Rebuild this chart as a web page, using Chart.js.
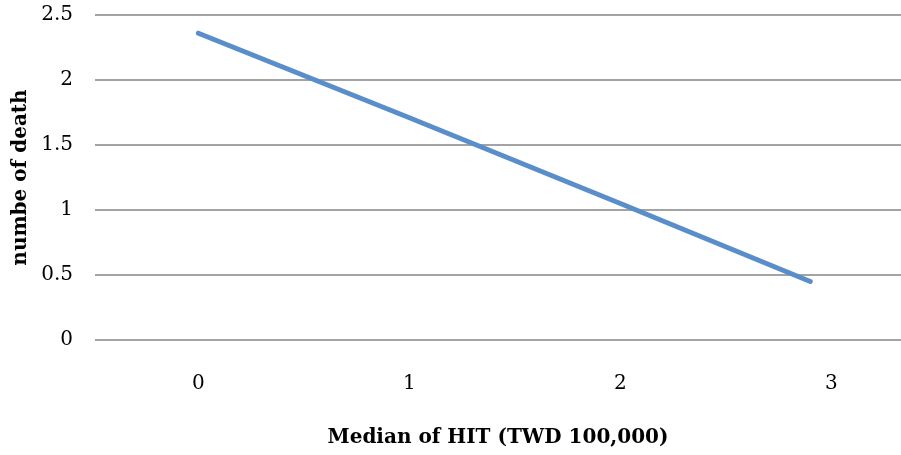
<!DOCTYPE html>
<html>
<head>
<meta charset="utf-8">
<script src="https://cdn.jsdelivr.net/npm/chart.js@4"></script>
<style>
  html, body { margin: 0; padding: 0; background: #ffffff; }
  #wrap { width: 901px; height: 455px; }
</style>
</head>
<body>
<div id="wrap"><canvas id="c" width="901" height="455"></canvas></div>
<script>
const medianHIT = [0, 1, 2, 2.9];
const deaths = [2.36, 1.71, 1.05, 0.45];
const xTickValues = [0, 1, 2, 3];
const yTickValues = [0, 0.5, 1, 1.5, 2, 2.5];
const xTitle = 'Median of HIT (TWD 100,000)';
const yTitle = 'numbe of death';

const points = medianHIT.map((x, i) => ({ x: x, y: deaths[i] }));
const serif = '"DejaVu Serif", "Liberation Serif", serif';

new Chart(document.getElementById('c'), {
  type: 'scatter',
  data: {
    datasets: [{
      data: points,
      showLine: true,
      borderColor: '#5A8ECB',
      backgroundColor: '#5A8ECB',
      borderWidth: 5,
      borderCapStyle: 'round',
      borderJoinStyle: 'round',
      pointRadius: 0,
      pointHoverRadius: 0,
      tension: 0
    }]
  },
  options: {
    responsive: false,
    animation: false,
    devicePixelRatio: 1,
    layout: { padding: { top: 15, right: 0, bottom: 0, left: 0 } },
    plugins: {
      legend: { display: false },
      tooltip: { enabled: false }
    },
    scales: {
      x: {
        type: 'linear',
        min: -0.49,
        max: 3.33,
        afterBuildTicks: (s) => { s.ticks = xTickValues.map(v => ({ value: v })); },
        afterFit: (s) => { s.height = 115; s.paddingLeft = 0; s.paddingRight = 0; s.paddingTop = 0; s.paddingBottom = 0; },
        grid: { display: false, drawTicks: false },
        border: { display: false },
        ticks: {
          padding: 32,
          maxRotation: 0,
          color: '#000000',
          font: { family: serif, size: 20 },
          callback: (v) => String(v)
        },
        title: {
          display: true,
          text: xTitle,
          color: '#000000',
          font: { family: serif, size: 20, weight: 'bold' },
          padding: { top: 4, bottom: 5 }
        }
      },
      y: {
        min: 0,
        max: 2.5,
        afterBuildTicks: (s) => { s.ticks = yTickValues.map(v => ({ value: v })); },
        afterFit: (s) => { s.width = 95; s.paddingTop = 0; s.paddingBottom = 0; s.paddingLeft = 0; s.paddingRight = 0; },
        grid: { color: '#A3A3A3', lineWidth: 2, drawTicks: false },
        border: { display: false },
        ticks: {
          padding: 22,
          color: '#000000',
          font: { family: serif, size: 20 },
          callback: (v) => String(v)
        },
        title: {
          display: true,
          text: yTitle,
          color: '#000000',
          font: { family: serif, size: 20, weight: 'bold' },
          padding: { top: 9, bottom: 4 }
        }
      }
    }
  }
});
</script>
</body>
</html>
